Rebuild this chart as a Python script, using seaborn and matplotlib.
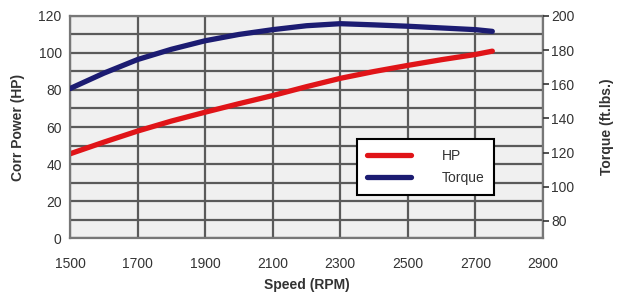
import pandas as pd
import seaborn as sns
import matplotlib.pyplot as plt
from matplotlib.ticker import MultipleLocator

# values
rpm = [1500, 1600, 1700, 1800, 1900, 2000, 2100, 2200, 2300, 2400, 2500, 2600, 2700, 2750]
hp = [45.5, 51.8, 57.8, 63.2, 68.0, 72.6, 77.0, 81.8, 86.3, 90.0, 93.3, 96.4, 99.2, 101.0]
torque = [157.5, 166.5, 174.5, 180.5, 185.5, 189.2, 192.0, 194.3, 195.5, 194.8, 194.0, 193.0, 192.0, 191.0]

x_ticks = [1500, 1700, 1900, 2100, 2300, 2500, 2700, 2900]
hp_ticks = [0, 20, 40, 60, 80, 100, 120]
torque_ticks = [80, 100, 120, 140, 160, 180, 200]

df = pd.DataFrame({"rpm": rpm, "HP": hp, "Torque": torque})

sns.set_style("white")
plt.rcParams["font.family"] = ["Liberation Sans", "DejaVu Sans"]

red = "#e01418"
navy = "#1c1c72"
grid_col = "#5a5a5a"
text_col = "#333333"

fig = plt.figure(figsize=(6.26, 2.99), dpi=100)
ax = fig.add_axes([0.1118, 0.204, 0.7556, 0.7425])
ax.set_facecolor("#f0f0f0")

sns.lineplot(data=df, x="rpm", y="HP", ax=ax, color=red, linewidth=3.8,
             label="HP", legend=False)
ax.set_xlim(1500, 2900)
ax.set_ylim(0, 120)
ax.set_xticks(x_ticks)
ax.set_yticks(hp_ticks)
ax.yaxis.set_minor_locator(MultipleLocator(10))
ax.grid(True, which="both", axis="y", color=grid_col, linewidth=1.6)
ax.grid(True, which="major", axis="x", color=grid_col, linewidth=1.6)
ax.set_axisbelow(True)
ax.tick_params(axis="both", which="both", length=0, labelsize=10,
               colors=text_col, pad=6)
ax.tick_params(axis="x", pad=14)
ax.set_xlabel("Speed (RPM)", fontsize=10, fontweight="bold", color=text_col,
              labelpad=5)
ax.set_ylabel("Corr Power (HP)", fontsize=10, fontweight="bold",
              color=text_col, labelpad=10)
for s in ax.spines.values():
    s.set_color("#777777")
    s.set_linewidth(1.6)

ax2 = ax.twinx()
sns.lineplot(data=df, x="rpm", y="Torque", ax=ax2, color=navy, linewidth=3.8,
             label="Torque", legend=False)
ax2.set_ylim(70, 200)
ax2.set_yticks(torque_ticks)
ax2.tick_params(axis="y", length=4, width=1.2, direction="out", labelsize=10,
                colors=text_col, pad=2)
ax2.set_ylabel("Torque (ft.lbs.)", fontsize=10, fontweight="bold",
               color=text_col, labelpad=18)
for s in ax2.spines.values():
    s.set_visible(False)

h1, l1 = ax.get_legend_handles_labels()
h2, l2 = ax2.get_legend_handles_labels()
leg = ax2.legend(h1 + h2, l1 + l2, loc="lower left",
                 bbox_to_anchor=(0.607, 0.194), fancybox=False,
                 framealpha=1, edgecolor="black", fontsize=10,
                 handlelength=3.2, handletextpad=2.2, borderpad=0.7,
                 labelspacing=0.6, borderaxespad=0)
leg.get_frame().set_linewidth(1.5)
for t in leg.get_texts():
    t.set_color(text_col)

fig.savefig("out.png", dpi=100)
